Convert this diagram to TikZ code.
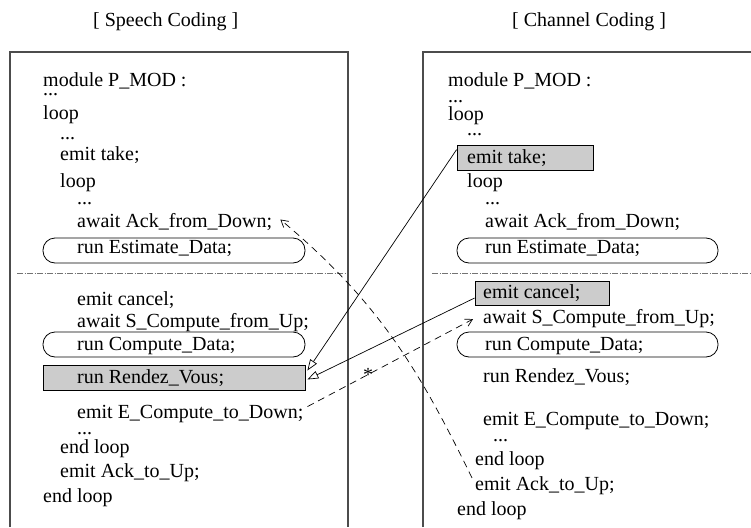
\documentclass[tikz,border=0pt]{standalone}
\usepackage{fontspec}
\setmainfont{Liberation Serif}
\usetikzlibrary{arrows.meta}
\begin{document}
\begin{tikzpicture}[x=1pt,y=-1pt,
  txt/.style={anchor=base west, inner sep=0pt, font=\fontsize{20}{24}\selectfont},
  frame/.style={draw=black!70, line width=1.3pt},
  sepline/.style={draw=black!55, line width=1pt, dash pattern=on 6pt off 1.5pt on 1pt off 1.5pt},
  graybox/.style={draw, fill=black!20, line width=0.8pt, inner sep=0pt},
  roundbox/.style={draw, rounded corners=12pt, line width=0.8pt, inner sep=0pt},
  solidarrow/.style={-{Triangle[open,length=11pt,width=8pt]}, line width=0.7pt},
  dasharrow/.style={-{Straight Barb[length=7pt,width=8pt]}, dash pattern=on 7pt off 5pt, line width=0.7pt},
]
\useasboundingbox (0,0) rectangle (751,527);

% titles
\node[txt] (t1) at (93,27) {[ Speech Coding ]};
\node[txt] (t2) at (512,27) {[ Channel Coding ]};

% frames
\draw[frame] (10,527) -- (10,52) -- (348,52) -- (348,527);
\draw[frame] (423,527) -- (423,52) -- (752,52);

% separators
\draw[sepline] (17,273) -- (345,273);
\draw[sepline] (432,273) -- (751,273);

% ---------- left boxes ----------
\node[roundbox, minimum width=262pt, minimum height=25pt] (lest) at (174,250.5) {};
\node[roundbox, minimum width=262pt, minimum height=25pt] (lcomp) at (174,344.5) {};
\node[graybox, minimum width=262pt, minimum height=25pt] (rv) at (174,377.5) {};

% ---------- right boxes ----------
\node[graybox, minimum width=136pt, minimum height=25pt] (take) at (525,157.5) {};
\node[roundbox, minimum width=261pt, minimum height=25pt] (rest) at (587.5,250.5) {};
\node[graybox, minimum width=134pt, minimum height=24pt] (cancel) at (542,293) {};
\node[roundbox, minimum width=261pt, minimum height=25pt] (rcomp) at (587.5,344.5) {};

% ---------- left text ----------
\node[txt] (l1) at (43,86) {module P\_MOD :};
\node[txt] (l2) at (43,95) {...};
\node[txt] (l3) at (43,119) {loop};
\node[txt] (l4) at (60,139) {...};
\node[txt] (l5) at (60,160) {emit take;};
\node[txt] (l6) at (60,187) {loop};
\node[txt] (l7) at (77,204) {...};
\node[txt] (afd) at (77,227) {await Ack\_from\_Down;};
\node[txt] (l9) at (77,253) {run Estimate\_Data;};
\node[txt] (l10) at (77,305) {emit cancel;};
\node[txt] (l11) at (77,327) {await S\_Compute\_from\_Up;};
\node[txt] (l12) at (77,350) {run Compute\_Data;};
\node[txt] (l13) at (77,383) {run Rendez\_Vous;};
\node[txt] (ecd) at (77,418) {emit E\_Compute\_to\_Down;};
\node[txt] (l15) at (77,434) {...};
\node[txt] (l16) at (60,453) {end loop};
\node[txt] (l17) at (60,477) {emit Ack\_to\_Up;};
\node[txt] (l18) at (43,502) {end loop};

% ---------- right text ----------
\node[txt] (r1) at (448,86) {module P\_MOD :};
\node[txt] (r2) at (448,102) {...};
\node[txt] (r3) at (448,120) {loop};
\node[txt] (r4) at (467,135) {...};
\node[txt] (r5) at (467,163) {emit take;};
\node[txt] (r6) at (467,187) {loop};
\node[txt] (r7) at (485,204) {...};
\node[txt] (r8) at (485,227) {await Ack\_from\_Down;};
\node[txt] (r9) at (485,253) {run Estimate\_Data;};
\node[txt] (r10) at (483,298) {emit cancel;};
\node[txt] (scu) at (483,323) {await S\_Compute\_from\_Up;};
\node[txt] (r12) at (485,350) {run Compute\_Data;};
\node[txt] (r13) at (483,382) {run Rendez\_Vous;};
\node[txt] (r14) at (483,425) {emit E\_Compute\_to\_Down;};
\node[txt] (r15) at (493,441) {...};
\node[txt] (r16) at (475,465) {end loop};
\node[txt] (ackup) at (475,490) {emit Ack\_to\_Up;};
\node[txt] (r18) at (457,515) {end loop};

% ---------- connectors ----------
\draw[solidarrow] ([yshift=-5pt]take.north west) -- ([yshift=7pt,xshift=2pt]rv.east);
\draw[solidarrow] ([yshift=-5pt]cancel.west) -- ([yshift=-2pt,xshift=2pt]rv.east);
\draw[dasharrow] ([xshift=4pt,yshift=-2pt]ecd.north east) -- ([xshift=-10pt,yshift=-1pt]scu.west);
\draw[dasharrow] ([xshift=-3pt,yshift=-2pt]ackup.north west) to[out=116,in=-40] ([xshift=8pt,yshift=2pt]afd.east);
\node[txt] (star) at (363,381) {*};

\end{tikzpicture}
\end{document}
